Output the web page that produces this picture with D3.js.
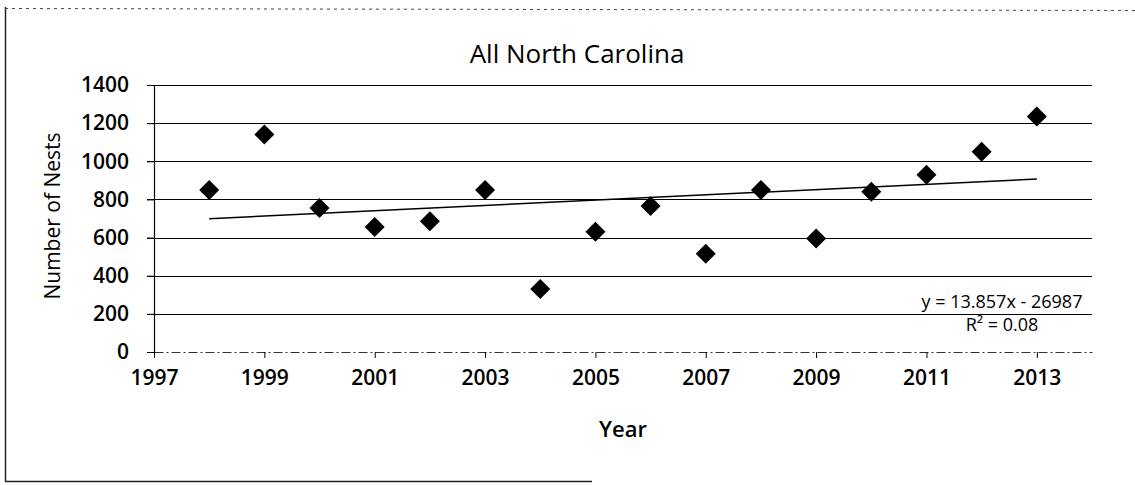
<!DOCTYPE html>
<html>
<head>
<meta charset="utf-8">
<script src="https://cdn.jsdelivr.net/npm/d3@7"></script>
<style>
  body { margin: 0; background: #fff; }
  svg text { font-family: "Open Sans", "Liberation Sans", sans-serif; fill: #000; }
</style>
</head>
<body>
<div id="chart"></div>
<script>
// data
var years = [1998, 1999, 2000, 2001, 2002, 2003, 2004, 2005, 2006, 2007, 2008, 2009, 2010, 2011, 2012, 2013];
var nests = [850, 1140, 755, 655, 685, 850, 330, 630, 765, 515, 850, 595, 840, 930, 1050, 1235];
var xTicks = [1997, 1999, 2001, 2003, 2005, 2007, 2009, 2011, 2013];
var yTicks = [0, 200, 400, 600, 800, 1000, 1200, 1400];
var trendSlope = 13.857;
var trendIntercept = -26987;
var trendLabel = ["y = 13.857x - 26987", "R\u00b2 = 0.08"];

var w = 1135, h = 485;
var margin = {left: 154, right: 43, top: 85, bottom: 133};

var svg = d3.select("#chart").append("svg")
    .attr("width", w)
    .attr("height", h);

// frame of the scanned chart
svg.append("line").attr("x1", 5.5).attr("y1", 7).attr("x2", 5.5).attr("y2", 482)
    .attr("stroke", "#222").attr("stroke-width", 1.5);
svg.append("line").attr("x1", 5).attr("y1", 481.5).attr("x2", 592).attr("y2", 481.5)
    .attr("stroke", "#222").attr("stroke-width", 1.5);
svg.append("line").attr("x1", 5).attr("y1", 8.5).attr("x2", 1135).attr("y2", 10.5)
    .attr("stroke", "#444").attr("stroke-dasharray", "3 4");

var x = d3.scaleLinear().domain([1997, 2014]).range([margin.left, w - margin.right]);
var y = d3.scaleLinear().domain([0, 1400]).range([h - margin.bottom, margin.top]);

// gridlines
svg.append("g").selectAll("line")
    .data(yTicks.filter(function(d) { return d > 0; }))
    .join("line")
    .attr("x1", margin.left - 7)
    .attr("x2", w - margin.right)
    .attr("y1", function(d) { return Math.round(y(d)) + 0.5; })
    .attr("y2", function(d) { return Math.round(y(d)) + 0.5; })
    .attr("stroke", "#000")
    .attr("stroke-width", 1.2);

// y axis
var yAxis = d3.axisLeft(y).tickValues(yTicks).tickFormat(d3.format("d")).tickSize(7).tickPadding(18);
var gy = svg.append("g")
    .attr("transform", "translate(" + margin.left + ",0)")
    .call(yAxis);
gy.select(".domain").attr("stroke", "#000").attr("stroke-width", 1.2);
gy.selectAll(".tick line").attr("stroke", "#000");
gy.selectAll("text").style("font-size", "21px").style("font-weight", "600");

// x axis
var xAxis = d3.axisBottom(x).tickValues(xTicks).tickFormat(d3.format("d")).tickSize(6).tickPadding(12).tickSizeOuter(0);
var gx = svg.append("g")
    .attr("transform", "translate(0," + y(0) + ")")
    .call(xAxis);
gx.select(".domain").attr("stroke", "#333").attr("stroke-dasharray", "9 3 2 3");
gx.selectAll(".tick line").attr("stroke", "#000");
gx.selectAll("text").style("font-size", "21px").style("font-weight", "600");

// trendline
svg.append("line")
    .attr("x1", x(years[0]))
    .attr("y1", y(trendSlope * years[0] + trendIntercept))
    .attr("x2", x(years[years.length - 1]))
    .attr("y2", y(trendSlope * years[years.length - 1] + trendIntercept))
    .attr("stroke", "#000")
    .attr("stroke-width", 1.5);

// points
var diamond = d3.symbol().type(d3.symbolSquare).size(200);
svg.append("g").selectAll("path")
    .data(years)
    .join("path")
    .attr("d", diamond)
    .attr("transform", function(d, i) {
        return "translate(" + x(d) + "," + y(nests[i]) + ") rotate(45)";
    })
    .attr("fill", "#000");

// trend equation
svg.append("g").selectAll("text")
    .data(trendLabel)
    .join("text")
    .attr("x", 1002)
    .attr("y", function(d, i) { return 308 + i * 23; })
    .attr("text-anchor", "middle")
    .style("font-size", "18px")
    .text(function(d) { return d; });

// title
svg.append("text")
    .attr("x", 577)
    .attr("y", 63)
    .attr("text-anchor", "middle")
    .style("font-size", "26px")
    .text("All North Carolina");

// axis titles
svg.append("text")
    .attr("x", 623)
    .attr("y", 437)
    .attr("text-anchor", "middle")
    .style("font-size", "22px")
    .style("font-weight", "600")
    .text("Year");

svg.append("text")
    .attr("transform", "translate(60,216) rotate(-90)")
    .attr("text-anchor", "middle")
    .style("font-size", "21px")
    .text("Number of Nests");
</script>
</body>
</html>
